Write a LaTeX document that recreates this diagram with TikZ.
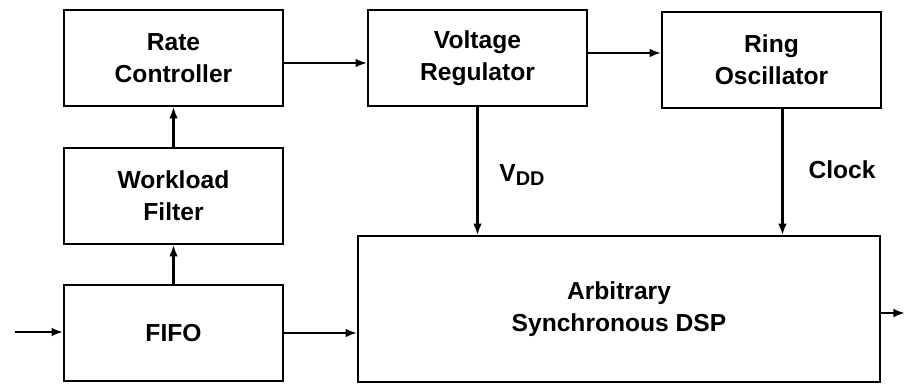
\documentclass[tikz,border=0pt]{standalone}
\usepackage{fontspec}
\setmainfont{Liberation Sans}
\usetikzlibrary{positioning,arrows.meta}

\begin{document}
\begin{tikzpicture}[x=0.03cm, y=0.03cm,
  block/.style={draw, line width=1.3pt, minimum width=6.57cm, minimum height=2.88cm,
               align=center, inner sep=0pt, font=\fontsize{21}{27}\selectfont\bfseries},
  lbl/.style={font=\fontsize{21}{27}\selectfont\bfseries},
  arr/.style={-{Latex[length=10pt, width=7.5pt]}, line width=2pt}
]
  \useasboundingbox (0,0) rectangle (905,386);

  % Left column
  \node[block] (rate) at (173.5,328) {Rate\\Controller};
  \node[block] (work) at (173.5,190) {Workload\\Filter};
  \node[block] (fifo) at (173.5,53) {FIFO};

  % Top row
  \node[block] (volt) at (477.5,328) {Voltage\\Regulator};
  \node[block] (ring) at (771.5,326) {Ring\\Oscillator};

  % DSP
  \node[block, minimum width=15.66cm, minimum height=4.38cm] (dsp) at (619,77)
    {Arbitrary\\Synchronous DSP};

  % In / out
  \coordinate (in) at (15,54);
  \coordinate (out) at (905,73);

  % Arrows
  \draw[arr] (in) -- (in -| fifo.west);
  \draw[arr] (fifo) -- (work);
  \draw[arr] (work) -- (rate);
  \draw[arr] ([yshift=-0.15cm]rate.east) -- ([yshift=-0.15cm]rate.east -| volt.west);
  \draw[arr] ([yshift=0.15cm]volt.east) -- ([yshift=0.15cm]volt.east -| ring.west);
  \draw[arr] (fifo.east) -- (fifo.east -| dsp.west);
  \draw[arr] (volt.south) -- (volt.south |- dsp.north);
  \draw[arr] ([xshift=0.33cm]ring.south) -- ([xshift=0.33cm]ring.south |- dsp.north);
  \draw[arr] (dsp.east |- out) -- (out);

  % Labels
  \node[lbl] (vdd) at (522,211) {V\raisebox{-4pt}{\fontsize{17}{17}\selectfont DD}};
  \node[lbl] (clk) at (842,216) {Clock};
\end{tikzpicture}
\end{document}
